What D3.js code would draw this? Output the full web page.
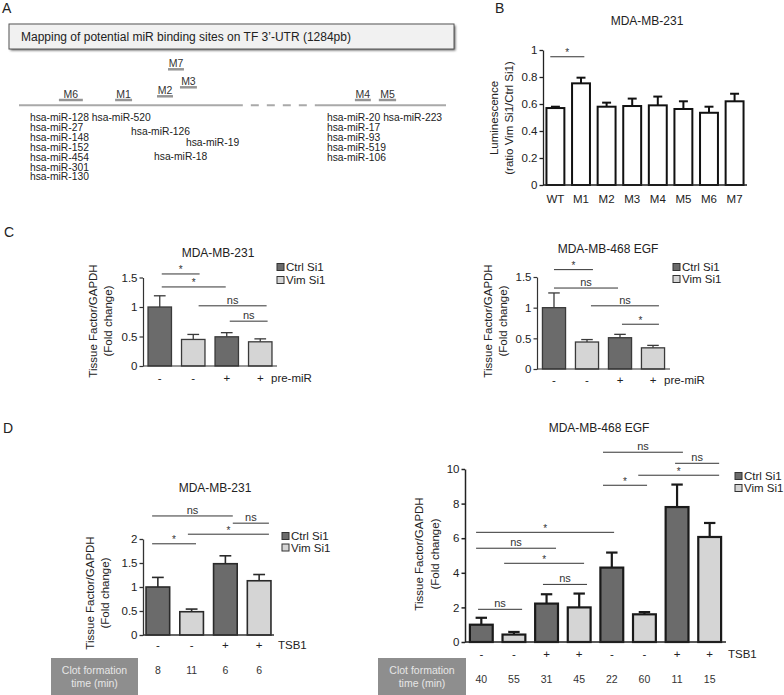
<!DOCTYPE html>
<html><head><meta charset="utf-8">
<script src="https://cdn.jsdelivr.net/npm/d3@7"></script>
<style>
body{margin:0;background:#fff;}
svg{display:block;font-family:"Liberation Sans",Arial,Helvetica,sans-serif;}
</style>
</head><body>
<svg id="c" width="784" height="695"></svg>
<script>
// ================= DATA =================
// Panel A : TF 3'-UTR map
const utrLengthPb = 1284;
const utrBreakPb = [673, 899];
const siteNames   = ["M6","M1","M2","M3","M7","M4","M5"];
const siteStartPb = [120, 289, 415, 484, 448, 1010, 1082];
const siteEndPb   = [192, 340, 463, 535, 496, 1058, 1134];
const siteLevel   = [0, 0, 1, 2, 3, 0, 0];
const mirNames = ["hsa-miR-128","hsa-miR-27","hsa-miR-148","hsa-miR-152","hsa-miR-454","hsa-miR-301","hsa-miR-130",
                  "hsa-miR-520","hsa-miR-126","hsa-miR-19","hsa-miR-18",
                  "hsa-miR-20","hsa-miR-17","hsa-miR-93","hsa-miR-519","hsa-miR-106","hsa-miR-223"];
const mirPb  = [33,33,33,33,33,33,33, 219,337,502,406, 926,926,926,926,926,1095];
const mirRow = [0,1,2,3,4,5,6, 0,1.45,2.55,3.95, 0,1,2,3,4,0];

// Panel B
const bCategories = ["WT","M1","M2","M3","M4","M5","M6","M7"];
const bValues = [0.57, 0.753, 0.58, 0.585, 0.59, 0.563, 0.535, 0.62];
const bErrors = [0.01, 0.042, 0.03, 0.055, 0.065, 0.057, 0.045, 0.056];
const bYTicks = [0, 0.2, 0.4, 0.6, 0.8, 1];
const bSigFrom = [-0.2], bSigTo = [1.13], bSigY = [0.95], bSigLabel = ["*"];

// Series
const seriesNames  = ["Ctrl Si1", "Vim Si1"];
const seriesColors = ["#6b6b6b", "#d5d5d5"];

// Panel C
const cGroups = [0, 1, 0, 1];
const cPreMiR = ["-", "-", "+", "+"];
const cYTicks = [0, 0.5, 1, 1.5];
const cLeftValues = [1.0, 0.45, 0.495, 0.41];
const cLeftErrors = [0.19, 0.085, 0.07, 0.05];
const cLeftSigFrom = [0.06, 0.06, 1.16, 2.09];
const cLeftSigTo   = [1.19, 1.97, 3.19, 3.22];
const cLeftSigY    = [1.56, 1.34, 1.02, 0.76];
const cLeftSigLabel = ["*", "*", "ns", "ns"];
const cRightValues = [1.0, 0.44, 0.51, 0.345];
const cRightErrors = [0.24, 0.04, 0.055, 0.04];
const cRightSigFrom = [0, 0, 1.12, 2.06];
const cRightSigTo   = [1.18, 1.94, 3.18, 3.18];
const cRightSigY    = [1.62, 1.32, 1.03, 0.73];
const cRightSigLabel = ["*", "ns", "ns", "*"];

// Panel D
const dLeftGroups = [0, 1, 0, 1];
const dLeftTSB1 = ["-", "-", "+", "+"];
const dLeftYTicks = [0, 0.5, 1, 1.5, 2];
const dLeftValues = [1.0, 0.485, 1.485, 1.13];
const dLeftErrors = [0.2, 0.055, 0.165, 0.13];
const dLeftClot = [8, 11, 6, 6];
const dLeftSigFrom = [-0.17, 2.22, 0.89, -0.17];
const dLeftSigTo   = [2.22, 3.29, 3.29, 1.13];
const dLeftSigY    = [2.48, 2.33, 2.10, 1.90];
const dLeftSigLabel = ["ns", "ns", "*", "*"];

const dRightGroups = [0, 1, 0, 1, 0, 1, 0, 1];
const dRightTSB1 = ["-", "-", "+", "+", "-", "-", "+", "+"];
const dRightYTicks = [0, 2, 4, 6, 8, 10];
const dRightValues = [1.0, 0.43, 2.22, 2.0, 4.3, 1.6, 7.8, 6.07];
const dRightErrors = [0.4, 0.15, 0.54, 0.8, 0.87, 0.13, 1.3, 0.81];
const dRightClot = [40, 55, 31, 45, 22, 60, 11, 15];
const dRightSigFrom = [3.73, 5.94, 4.81, 3.73, -0.16, -0.16, 0.7, 1.89, -0.1];
const dRightSigTo   = [6.18, 7.29, 7.29, 5.08, 4.07, 2.29, 3.15, 3.24, 1.25];
const dRightSigY    = [10.97, 10.33, 9.64, 9.06, 6.34, 5.42, 4.55, 3.33, 1.89];
const dRightSigLabel = ["ns", "ns", "*", "*", "*", "ns", "*", "ns", "ns"];

// ================= DRAWING =================
const svg = d3.select("#c");
const TXT = "#222";

function text(x, y, s, size, anchor, fill) {
  return svg.append("text").attr("x", x).attr("y", y).text(s)
    .attr("font-size", size).attr("text-anchor", anchor || "start").attr("fill", fill || TXT);
}
function yLabel(lines, xs, yc, size) {
  lines.forEach((l, i) => {
    svg.append("text").attr("transform", `translate(${xs[i]},${yc}) rotate(-90)`)
      .attr("text-anchor", "middle").attr("font-size", size).attr("fill", TXT).text(l);
  });
}

// Panel letters
text(2, 13, "A", 14);
text(495, 13, "B", 14);
text(4, 237, "C", 14);
text(3, 433, "D", 14);

// ---------- Panel A ----------
const defs = svg.append("defs");
const f = defs.append("filter").attr("id", "sh").attr("x", "-5%").attr("y", "-30%").attr("width", "110%").attr("height", "170%");
f.append("feGaussianBlur").attr("stdDeviation", 1.2);
svg.append("rect").attr("x", 10.5).attr("y", 25.5).attr("width", 445).attr("height", 25)
  .attr("fill", "#666").attr("filter", "url(#sh)");
svg.append("rect").attr("x", 9).attr("y", 24).attr("width", 445).attr("height", 25)
  .attr("fill", "#f1f1f1").attr("stroke", "#555").attr("stroke-width", 1);
text(21, 41, "Mapping of potential miR binding sites on TF 3\u2019-UTR (1284pb)", 12);

const ax = d3.scaleLinear().domain([0, utrLengthPb]).range([19, 446]);
const utrY = 105.3;
const lineCol = "#a9a9a9";
svg.append("line").attr("x1", ax(0)).attr("x2", ax(utrBreakPb[0])).attr("y1", utrY).attr("y2", utrY)
  .attr("stroke", lineCol).attr("stroke-width", 2);
svg.append("line").attr("x1", ax(utrBreakPb[0])).attr("x2", ax(utrBreakPb[1])).attr("y1", utrY).attr("y2", utrY)
  .attr("stroke", lineCol).attr("stroke-width", 2).attr("stroke-dasharray", "8,8").attr("stroke-dashoffset", 8);
svg.append("line").attr("x1", ax(utrBreakPb[1])).attr("x2", ax(utrLengthPb)).attr("y1", utrY).attr("y2", utrY)
  .attr("stroke", lineCol).attr("stroke-width", 2);

const levelOffset = [5.3, 9, 18, 36];
siteNames.forEach((n, i) => {
  const yy = utrY - levelOffset[siteLevel[i]];
  svg.append("line").attr("x1", ax(siteStartPb[i])).attr("x2", ax(siteEndPb[i]))
    .attr("y1", yy).attr("y2", yy).attr("stroke", "#959595").attr("stroke-width", 2.5);
  text((ax(siteStartPb[i]) + ax(siteEndPb[i])) / 2, yy - 2.5, n, 10.5, "middle", "#333");
});
mirNames.forEach((n, i) => {
  text(ax(mirPb[i]), 121 + mirRow[i] * 9.9, n, 10.3, "start", "#222");
});

// ---------- Generic bar panel ----------
function barPanel(cfg) {
  const n = cfg.values.length;
  const x = d3.scaleBand().domain(d3.range(n)).range(cfg.xr).paddingInner(0.3).paddingOuter(cfg.po);
  const y = d3.scaleLinear().domain([0, cfg.ymax]).range([cfg.y0, cfg.ytop]);
  const bw = x.bandwidth();
  const g = svg.append("g");
  const ya = g.append("g").attr("transform", `translate(${cfg.xr[0]},0)`)
    .call(d3.axisLeft(y).tickValues(cfg.ticks).tickFormat(d3.format("~g")).tickSize(3.5).tickSizeOuter(0).tickPadding(2));
  ya.selectAll("path,line").attr("stroke", cfg.axisCol).attr("stroke-width", cfg.axisW);
  ya.selectAll("text").attr("font-size", 11.5).attr("fill", TXT).attr("font-family", null);
  // error bars
  const cap = bw * 0.25;
  cfg.values.forEach((v, i) => {
    const cx = x(i) + bw / 2;
    g.append("line").attr("x1", cx).attr("x2", cx).attr("y1", y(v)).attr("y2", y(v + cfg.errors[i]))
      .attr("stroke", cfg.stroke).attr("stroke-width", cfg.sw);
    g.append("line").attr("x1", cx - cap).attr("x2", cx + cap).attr("y1", y(v + cfg.errors[i])).attr("y2", y(v + cfg.errors[i]))
      .attr("stroke", cfg.stroke).attr("stroke-width", cfg.sw);
  });
  g.selectAll("rect.bar").data(cfg.values).join("rect").attr("class", "bar")
    .attr("x", (d, i) => x(i)).attr("y", d => y(d)).attr("width", bw).attr("height", d => y(0) - y(d))
    .attr("fill", (d, i) => cfg.fills[i]).attr("stroke", cfg.stroke).attr("stroke-width", cfg.sw);
  g.append("line").attr("x1", cfg.xr[0]).attr("x2", cfg.xr[1]).attr("y1", y(0)).attr("y2", y(0))
    .attr("stroke", cfg.axisCol).attr("stroke-width", cfg.axisW);
  // significance
  const c0 = x(0) + bw / 2, st = x.step();
  cfg.sigLabel.forEach((lab, k) => {
    const x1 = c0 + cfg.sigFrom[k] * st, x2 = c0 + cfg.sigTo[k] * st, yy = y(cfg.sigY[k]);
    g.append("line").attr("x1", x1).attr("x2", x2).attr("y1", yy).attr("y2", yy).attr("stroke", "#333").attr("stroke-width", 1);
    if (lab === "*") text((x1 + x2) / 2, yy - 0.5, "*", 10, "middle", "#333");
    else text((x1 + x2) / 2, yy - 2, lab, 11, "middle", "#333");
  });
  // x labels
  if (cfg.xlabels) cfg.xlabels.forEach((l, i) => text(x(i) + bw / 2, cfg.xlabY, l, 11.5, "middle"));
  if (cfg.xname) text(cfg.xnameX, cfg.xlabY, cfg.xname, 11.5, "start");
  // legend
  if (cfg.legend) {
    seriesNames.forEach((s, i) => {
      const ly = cfg.legend[1] + i * cfg.legend[2];
      g.append("rect").attr("x", cfg.legend[0]).attr("y", ly - 3.5).attr("width", 7).attr("height", 7)
        .attr("fill", seriesColors[i]).attr("stroke", "#333").attr("stroke-width", 1);
      text(cfg.legend[0] + 9, ly + 4, s, 11.5, "start");
    });
  }
  // clot formation row
  if (cfg.clot) {
    const b = cfg.clotBox;
    g.append("rect").attr("x", b[0]).attr("y", b[1]).attr("width", b[2]).attr("height", b[3]).attr("fill", "#8e8e8e");
    text(b[0] + b[2] / 2, b[1] + 16, "Clot formation", 10.5, "middle", "#e6e6e6");
    text(b[0] + b[2] / 2, b[1] + 29, "time (min)", 10.5, "middle", "#e6e6e6");
    cfg.clot.forEach((c, i) => text(x(i) + bw / 2, cfg.clotY, c, 10.5, "middle", "#333"));
  }
  return { x, y };
}

// ---------- Panel B ----------
text(647, 25, "MDA-MB-231", 12, "middle");
barPanel({ values: bValues, errors: bErrors, xr: [543, 747], po: 0.135, ymax: 1, y0: 185, ytop: 50,
  ticks: bYTicks, fills: bValues.map(() => "#fff"), stroke: "#111", sw: 2, axisCol: "#222", axisW: 1.3,
  sigFrom: bSigFrom, sigTo: bSigTo, sigY: bSigY, sigLabel: bSigLabel, xlabels: bCategories, xlabY: 203 });
yLabel(["Luminescence", "(ratio Vim Si1/Ctrl Si1)"], [498, 513], 118, 11.5);

// ---------- Panel C ----------
text(218, 257, "MDA-MB-231", 12, "middle");
barPanel({ values: cLeftValues, errors: cLeftErrors, xr: [143, 277], po: 0.15, ymax: 1.5, y0: 366, ytop: 277.5,
  ticks: cYTicks, fills: cGroups.map(g => seriesColors[g]), stroke: "#3a3a3a", sw: 1.3, axisCol: "#333", axisW: 1.2,
  sigFrom: cLeftSigFrom, sigTo: cLeftSigTo, sigY: cLeftSigY, sigLabel: cLeftSigLabel,
  xlabels: cPreMiR, xlabY: 382, xname: "pre-miR", xnameX: 271, legend: [277, 267, 13] });
yLabel(["Tissue Factor/GAPDH", "(Fold change)"], [97, 112], 321, 11.5);

text(608, 253, "MDA-MB-468 EGF", 12, "middle");
barPanel({ values: cRightValues, errors: cRightErrors, xr: [537, 670], po: 0.165, ymax: 1.5, y0: 369, ytop: 277,
  ticks: cYTicks, fills: cGroups.map(g => seriesColors[g]), stroke: "#3a3a3a", sw: 1.3, axisCol: "#333", axisW: 1.2,
  sigFrom: cRightSigFrom, sigTo: cRightSigTo, sigY: cRightSigY, sigLabel: cRightSigLabel,
  xlabels: cPreMiR, xlabY: 384, xname: "pre-miR", xnameX: 664, legend: [673, 267, 12] });
yLabel(["Tissue Factor/GAPDH", "(Fold change)"], [492, 507], 321, 11.5);

// ---------- Panel D ----------
text(215, 492, "MDA-MB-231", 12, "middle");
barPanel({ values: dLeftValues, errors: dLeftErrors, xr: [143, 274], po: 0.09, ymax: 2, y0: 635, ytop: 539,
  ticks: dLeftYTicks, fills: dLeftGroups.map(g => seriesColors[g]), stroke: "#2a2a2a", sw: 1.6, axisCol: "#333", axisW: 1.3,
  sigFrom: dLeftSigFrom, sigTo: dLeftSigTo, sigY: dLeftSigY, sigLabel: dLeftSigLabel,
  xlabels: dLeftTSB1, xlabY: 649, xname: "TSB1", xnameX: 278, legend: [282, 536, 11.5],
  clot: dLeftClot, clotBox: [51, 658, 87, 37], clotY: 674 });
yLabel(["Tissue Factor/GAPDH", "(Fold change)"], [94, 109], 593, 11.5);

text(599, 432, "MDA-MB-468 EGF", 12, "middle");
barPanel({ values: dRightValues, errors: dRightErrors, xr: [465, 726], po: 0.15, ymax: 10, y0: 642, ytop: 469,
  ticks: dRightYTicks, fills: dRightGroups.map(g => seriesColors[g]), stroke: "#1a1a1a", sw: 2.2, axisCol: "#222", axisW: 1.5,
  sigFrom: dRightSigFrom, sigTo: dRightSigTo, sigY: dRightSigY, sigLabel: dRightSigLabel,
  xlabels: dRightTSB1, xlabY: 658, xname: "TSB1", xnameX: 728, legend: [735, 476, 12],
  clot: dRightClot, clotBox: [378, 658, 88, 37], clotY: 683 });
yLabel(["Tissue Factor/GAPDH", "(Fold change)"], [423, 439], 554, 11.5);
</script>
</body></html>
